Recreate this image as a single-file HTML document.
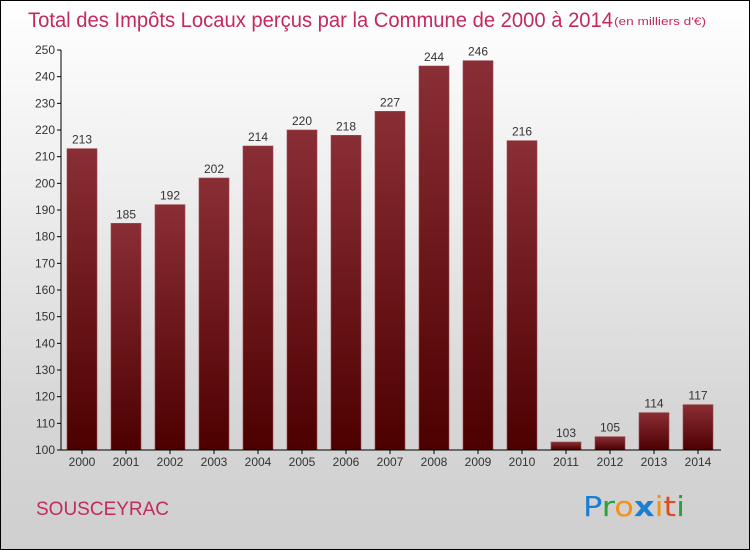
<!DOCTYPE html>
<html><head><meta charset="utf-8"><style>
body{margin:0;width:750px;height:550px;overflow:hidden;font-family:"Liberation Sans","DejaVu Sans",sans-serif}
#frame{position:absolute;left:0;top:0;width:748px;height:548px;border:1px solid #000;background:linear-gradient(#ffffff,#f0f0f0 30%,#d6d6d6 75%,#cfcfcf)}
</style></head><body>
<div id="frame"></div>
<svg id="chart" width="750" height="550" style="position:absolute;left:0;top:0">
<defs><linearGradient id="bg" x1="0" y1="0" x2="0" y2="1"><stop offset="0" stop-color="#8a2e35"/><stop offset="1" stop-color="#4d0000"/></linearGradient></defs>
<text x="28" y="27" font-size="21" fill="#c42a5c" textLength="585" lengthAdjust="spacingAndGlyphs">Total des Impôts Locaux perçus par la Commune de 2000 à 2014</text>
<text x="614" y="25" font-size="11" fill="#c42a5c" textLength="92" lengthAdjust="spacingAndGlyphs">(en milliers d'€)</text>
<text x="36" y="515" font-size="19" fill="#c42a5c">SOUSCEYRAC</text>
<g font-size="28" font-family="'DejaVu Sans',sans-serif">
<text x="583" y="516" textLength="102" lengthAdjust="spacingAndGlyphs"><tspan fill="#1a7fd4">P</tspan><tspan fill="#2aa040">r</tspan><tspan fill="#f39016">o</tspan><tspan fill="#1a7fd4" font-weight="bold">x</tspan><tspan fill="#f39016">i</tspan><tspan fill="#e04a20">t</tspan><tspan fill="#2aa040">i</tspan></text></g>
<g id="plot"></g>
</svg>
<script>
const categories=["2000","2001","2002","2003","2004","2005","2006","2007","2008","2009","2010","2011","2012","2013","2014"];
const values=[213,185,192,202,214,220,218,227,244,246,216,103,105,114,117];
const yTicks=[100,110,120,130,140,150,160,170,180,190,200,210,220,230,240,250];
const yMin=100,yMax=250,top0=50,bot=450;
const y=v=>bot-(v-yMin)/(yMax-yMin)*(bot-top0);
const xc=i=>82+i*44;
const NS="http://www.w3.org/2000/svg";
const g=document.getElementById('plot');
function mk(t,a){const e=document.createElementNS(NS,t);for(const k in a)e.setAttribute(k,a[k]);g.appendChild(e);return e;}
yTicks.forEach(v=>{
 const l=mk('line',{x1:57,x2:61,y1:y(v),y2:y(v),stroke:'#000'});
 
 
 const t=mk('text',{x:55,y:y(v)+4,'text-anchor':'end','font-size':12,fill:'#333'});
 t.textContent=v;
 
 
});
values.forEach((v,i)=>{
 const r=mk('rect',{x:xc(i)-15,y:y(v),width:30,height:bot-y(v),fill:'url(#bg)',stroke:'#9a4a50','stroke-width':0.6});
 
 
 const t=mk('text',{x:xc(i),y:y(v)-5,'text-anchor':'middle','font-size':12,fill:'#333'});
 t.textContent=v;
 
 
 const c=mk('text',{x:xc(i),y:466,'text-anchor':'middle','font-size':12,fill:'#333'});
 c.textContent=categories[i];
 
 
 const tk=mk('line',{x1:xc(i),x2:xc(i),y1:bot,y2:bot+4,stroke:'#000'});
 
 
});
const ya=mk('line',{x1:61,x2:61,y1:top0,y2:bot,stroke:'#000'});


const xa=mk('line',{x1:61,x2:721,y1:bot,y2:bot,stroke:'#000'});


</script>
</body></html>
